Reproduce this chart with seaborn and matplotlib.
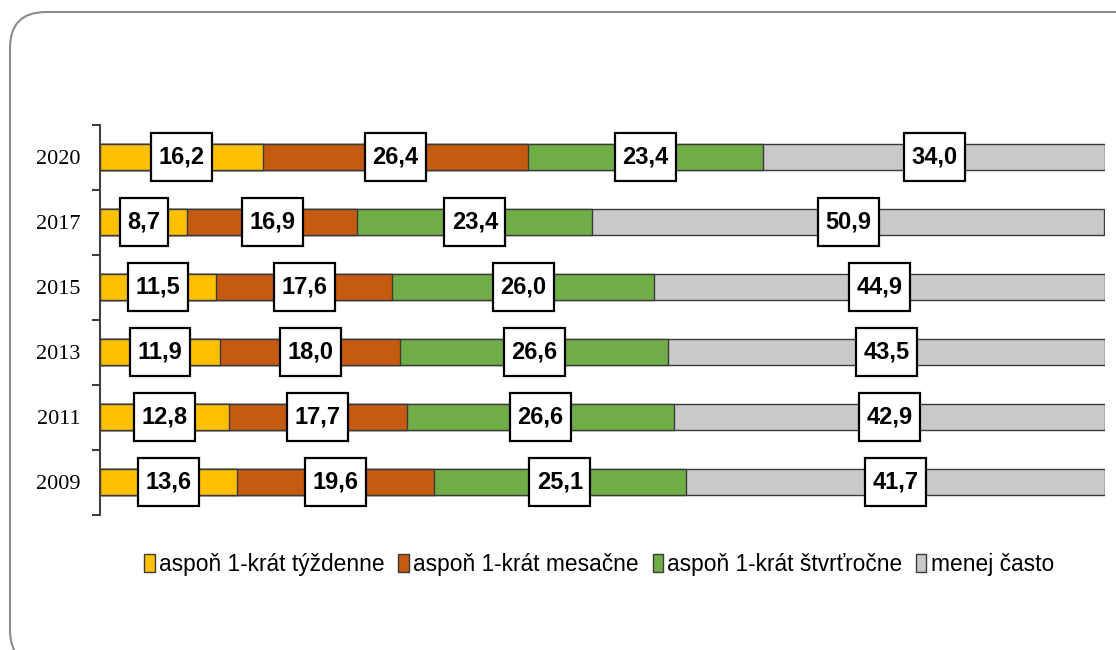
import numpy as np
import pandas as pd
import seaborn as sns
import matplotlib
matplotlib.use("Agg")
import matplotlib.pyplot as plt
from matplotlib import font_manager
from matplotlib.patches import FancyBboxPatch, Patch, Rectangle
from matplotlib.transforms import IdentityTransform
from matplotlib.ticker import FixedLocator, NullLocator

# --- data -------------------------------------------------------------
years = ["2020", "2017", "2015", "2013", "2011", "2009"]
weekly = [16.2, 8.7, 11.5, 11.9, 12.8, 13.6]
monthly = [26.4, 16.9, 17.6, 18.0, 17.7, 19.6]
quarterly = [23.4, 23.4, 26.0, 26.6, 26.6, 25.1]
less_often = [34.0, 50.9, 44.9, 43.5, 42.9, 41.7]
series_names = ["aspoň 1-krát týždenne", "aspoň 1-krát mesačne",
                "aspoň 1-krát štvrťročne", "menej často"]
colors = ["#FFC000", "#C55A11", "#70AD47", "#C9C9C9"]

sns.set_theme(style="white")
names = {f.name for f in font_manager.fontManager.ttflist}
narrow = "Liberation Sans Narrow" in names
label_font = "Liberation Sans Narrow" if narrow else "Liberation Sans"
plt.rcParams["font.family"] = ["Liberation Sans", "DejaVu Sans"]

df = pd.DataFrame({"year": years, "s0": weekly, "s1": monthly,
                   "s2": quarterly, "s3": less_often})
parts = ["s0", "s1", "s2", "s3"]
cum = df[parts].cumsum(axis=1)

fig = plt.figure(figsize=(11.16, 6.5), dpi=100)
ax = fig.add_axes([0.0896, 0.2077, 0.9005, 0.6])

# stacked bars: draw cumulative totals from the outermost segment inward
for i in range(3, -1, -1):
    sns.barplot(x=cum[parts[i]], y=df["year"], order=years, orient="h",
                color=colors[i], width=0.4, edgecolor="#3a3a3a",
                linewidth=1.0, saturation=1, ax=ax)

ax.set_xlim(0, 100)
ax.set_ylim(5.5, -0.5)

# value labels centred in each segment
labels = []
for i, p in enumerate(parts):
    starts = cum[p] - df[p]
    for j, (s, v) in enumerate(zip(starts, df[p])):
        t = ax.text(s + v / 2, j, f"{v:.1f}".replace(".", ","),
                    ha="center", va="center",
                    fontsize=18 if narrow else 17, fontweight="bold",
                    family=[label_font, "DejaVu Sans"], color="black",
                    zorder=5)
        labels.append(t)

# white boxes behind the labels, sized from the rendered text
fig.canvas.draw()
renderer = fig.canvas.get_renderer()
for t in labels:
    bb = t.get_window_extent(renderer)
    cx, cy = ax.transData.transform(t.get_position())
    w, h = bb.width + 15, 48
    ax.add_patch(Rectangle((cx - w / 2, cy - h / 2), w, h,
                           transform=IdentityTransform(), fc="white",
                           ec="black", lw=1.6, zorder=4))

ax.set_xlabel("")
ax.set_ylabel("")
ax.xaxis.set_major_locator(NullLocator())
for side in ["top", "right", "bottom"]:
    ax.spines[side].set_visible(False)
ax.spines["left"].set_color("#404040")
ax.spines["left"].set_linewidth(1.5)
ax.yaxis.set_minor_locator(FixedLocator(np.arange(-0.5, 6, 1.0)))
ax.tick_params(axis="y", which="major", length=0, pad=14, labelsize=16)
ax.tick_params(axis="y", which="minor", left=True, length=6, width=1.5,
               color="#404040", direction="out")
for t in ax.get_yticklabels():
    t.set_family(["Liberation Serif", "DejaVu Serif"])
    t.set_color("black")

handles = [Patch(facecolor=c, edgecolor="#3a3a3a", lw=1.0) for c in colors]
leg = fig.legend(handles, series_names, loc="center",
                 bbox_to_anchor=(0.537, 0.132), ncol=4, frameon=False,
                 fontsize=16.4, handlelength=0.45, handleheight=0.85,
                 handletextpad=0.2, columnspacing=0.6)
for txt in leg.get_texts():
    txt.set_color("black")

# rounded frame around the chart area (display pixels, origin bottom-left)
frame = FancyBboxPatch((10, -16), 1200, 654,
                       boxstyle="round,pad=0,rounding_size=36",
                       transform=IdentityTransform(), fill=False,
                       ec="#8c8c8c", lw=1.5)
fig.patches.append(frame)

fig.savefig("out.png", dpi=100)
